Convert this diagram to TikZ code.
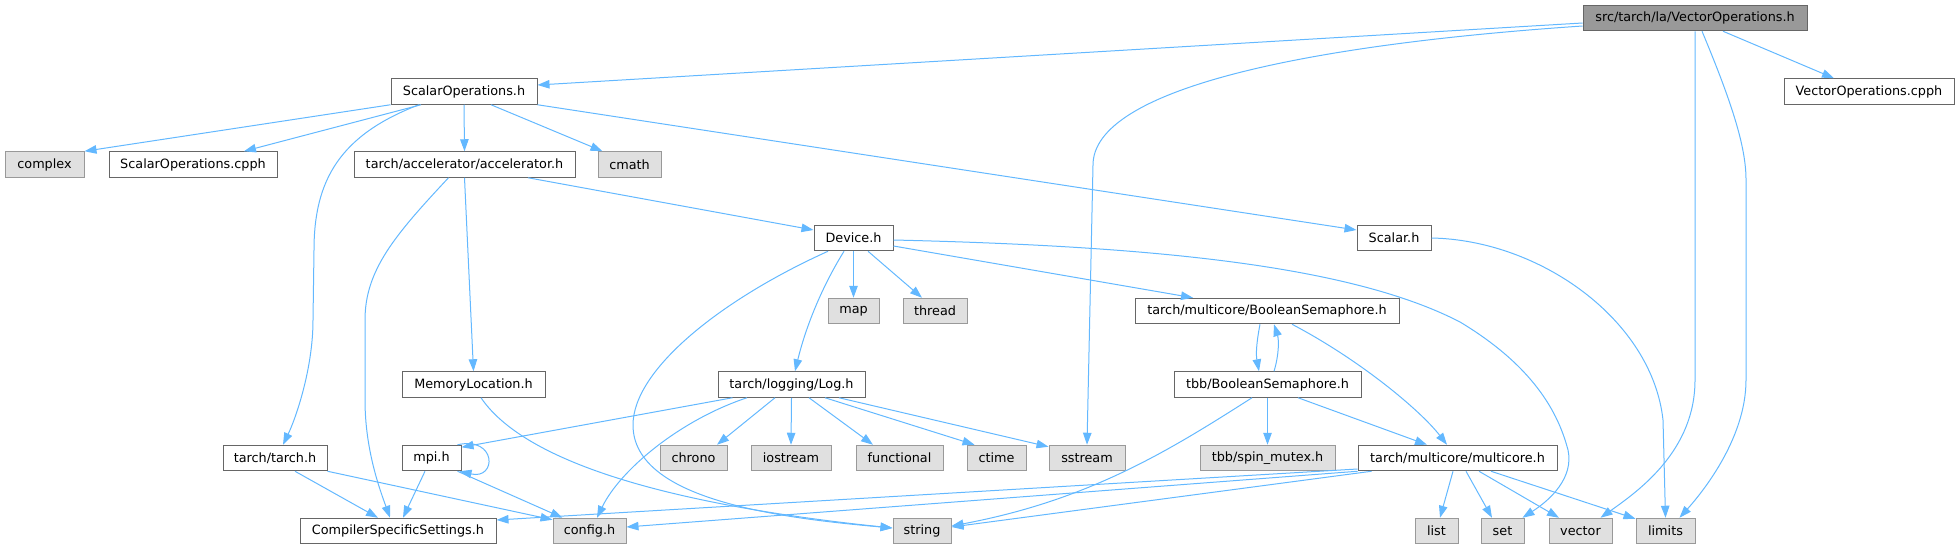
\documentclass[tikz,border=0pt]{standalone}
\usepackage{fontspec}
\setmainfont{DejaVu Sans}
\usetikzlibrary{arrows.meta}
\definecolor{edgec}{HTML}{63B8FF}
\definecolor{rootfill}{HTML}{999999}
\definecolor{darkb}{HTML}{666666}
\definecolor{extfill}{HTML}{E0E0E0}
\definecolor{extb}{HTML}{999999}
\tikzset{
  box/.style={draw=darkb, fill=white, line width=1pt, minimum height=25.5pt, inner sep=0pt, font=\fontsize{12.8}{15}\selectfont},
  rootbox/.style={box, fill=rootfill},
  extbox/.style={box, draw=extb, fill=extfill},
  e/.style={draw=edgec, line width=1pt, -{Triangle[length=12pt,width=8.5pt]}}
}
\begin{document}
\begin{tikzpicture}[x=1pt,y=-1pt]
\useasboundingbox (0,0) rectangle (1959,549);
% nodes
\node[rootbox, minimum width=224pt] (root) at (1695,18) {src/tarch/la/VectorOperations.h};
\node[box, minimum width=146pt] (sops) at (464,91.5) {ScalarOperations.h};
\node[box, minimum width=170pt] (vcpph) at (1869,91.5) {VectorOperations.cpph};
\node[extbox, minimum width=79pt] (complex) at (44.5,164.5) {complex};
\node[box, minimum width=168pt] (scpph) at (193,164.5) {ScalarOperations.cpph};
\node[box, minimum width=221pt] (accel) at (464.5,164.5) {tarch/accelerator/accelerator.h};
\node[extbox, minimum width=63pt] (cmath) at (629.5,164.5) {cmath};
\node[box, minimum width=79pt] (device) at (853.5,238) {Device.h};
\node[box, minimum width=74pt] (scalar) at (1394,238) {Scalar.h};
\node[extbox, minimum width=51pt] (map) at (853.5,311) {map};
\node[extbox, minimum width=64pt] (thread) at (935,311) {thread};
\node[box, minimum width=264pt] (bsem) at (1267,311) {tarch/multicore/BooleanSemaphore.h};
\node[box, minimum width=143pt] (memloc) at (473.5,384.5) {MemoryLocation.h};
\node[box, minimum width=147pt] (log) at (791.5,384.5) {tarch/logging/Log.h};
\node[box, minimum width=187pt] (tbbbs) at (1267.5,384.5) {tbb/BooleanSemaphore.h};
\node[box, minimum width=104pt] (tarchh) at (275,458) {tarch/tarch.h};
\node[box, minimum width=59pt] (mpi) at (431.5,458) {mpi.h};
\node[extbox, minimum width=67pt] (chrono) at (693.5,458) {chrono};
\node[extbox, minimum width=80pt] (iostream) at (791,458) {iostream};
\node[extbox, minimum width=87pt] (functional) at (899.5,458) {functional};
\node[extbox, minimum width=59pt] (ctime) at (996.5,458) {ctime};
\node[extbox, minimum width=76pt] (sstream) at (1087,458) {sstream};
\node[extbox, minimum width=135pt] (spin) at (1267.5,458) {tbb/spin\_mutex.h};
\node[box, minimum width=199pt] (multicore) at (1457.5,458) {tarch/multicore/multicore.h};
\node[box, minimum width=196pt] (css) at (398,531) {CompilerSpecificSettings.h};
\node[extbox, minimum width=73pt] (config) at (589.5,531) {config.h};
\node[extbox, minimum width=58pt] (string) at (922,531) {string};
\node[extbox, minimum width=43pt] (list) at (1436.5,531) {list};
\node[extbox, minimum width=43pt] (set) at (1502.5,531) {set};
\node[extbox, minimum width=63pt] (vector) at (1580.5,531) {vector};
\node[extbox, minimum width=59pt] (limits) at (1665.5,531) {limits};
% edges from root
\draw[e] ([yshift=-5pt]root.west) -- ([yshift=6.5pt]sops.east);
\draw[e] ([yshift=-8pt]root.west) .. controls (1300,45) and (1093,90) .. (1093,165) -- (sstream.north);
\draw[e] (root.south) -- (1695,380) .. controls (1695,450) and (1640,490) .. ([xshift=20pt]vector.north);
\draw[e] ([xshift=7pt]root.south) .. controls (1735,110) and (1746,150) .. (1746,180) -- (1746,380) .. controls (1746,440) and (1700,495) .. ([xshift=14pt]limits.north);
\draw[e] ([xshift=28pt]root.south) -- ([xshift=-35pt]vcpph.north);
% ScalarOperations.h
\draw[e] (sops.south west) -- (complex.north east);
\draw[e] ([xshift=-43pt]sops.south) -- ([xshift=51pt]scpph.north);
\draw[e] ([xshift=-45pt]sops.south) .. controls (340,135) and (314,180) .. (314,250) -- (313,320) .. controls (313,370) and (295,420) .. ([xshift=8pt]tarchh.north);
\draw[e] (sops.south) -- (accel.north);
\draw[e] ([xshift=27pt]sops.south) -- ([xshift=-27pt]cmath.north);
\draw[e] (sops.south east) -- ([yshift=8pt]scalar.west);
% accelerator.h
\draw[e] ([xshift=63.5pt]accel.south) -- ([yshift=8pt]device.west);
\draw[e] (accel.south) -- (memloc.north);
\draw[e] ([xshift=-16pt]accel.south) .. controls (395,235) and (365,270) .. (365,320) -- (365,400) .. controls (365,450) and (380,490) .. ([xshift=-8pt]css.north);
% Device.h
\draw[e] (device.south) -- (map.north);
\draw[e] ([xshift=14.5pt]device.south) -- ([xshift=-13pt]thread.north);
\draw[e] ([xshift=-9.5pt]device.south) .. controls (820,290) and (805,330) .. ([xshift=3.5pt]log.north);
\draw[e] ([xshift=-25.5pt]device.south) .. controls (720,300) and (633,370) .. (633,425) .. controls (633,500) and (780,518) .. ([yshift=3pt]string.west);
\draw[e] ([yshift=-8pt]device.east) -- ([xshift=-74pt]bsem.north);
\draw[e] ([yshift=-2pt]device.east) .. controls (1150,246) and (1350,265) .. (1460,322) .. controls (1540,370) and (1560,420) .. (1568,450) .. controls (1574,478) and (1550,500) .. ([xshift=-2pt]set.north east);
% Scalar.h
\draw[e] (scalar.east) .. controls (1540,240) and (1652,320) .. (1663,420) -- (limits.north);
% Log.h
\draw[e] ([xshift=15pt]log.south west) -- ([yshift=-2.5pt]mpi.north east);
\draw[e] ([xshift=-44.5pt]log.south) .. controls (680,420) and (620,470) .. ([xshift=7.5pt]config.north);
\draw[e] ([xshift=-16.5pt]log.south) -- ([xshift=23.5pt]chrono.north);
\draw[e] (log.south) -- (iostream.north);
\draw[e] ([xshift=17.5pt]log.south) -- ([xshift=-26.5pt]functional.north);
\draw[e] ([xshift=33.5pt]log.south) -- ([xshift=8pt]ctime.north west);
\draw[e] ([xshift=47.5pt]log.south) -- ([yshift=-2pt]sstream.north west);
% mpi.h
\draw[e] ([xshift=-4pt]mpi.north east) .. controls (497,436) and (497,480) .. ([xshift=-2pt]mpi.south east);
\draw[e] ([xshift=-6.5pt]mpi.south) -- ([xshift=5pt]css.north);
\draw[e] ([xshift=-4pt]mpi.south east) -- ([xshift=10pt]config.north west);
% tarch.h
\draw[e] ([xshift=20pt]tarchh.south) -- ([xshift=-20pt]css.north);
\draw[e] (tarchh.south east) -- ([yshift=-2pt]config.north west);
% MemoryLocation.h
\draw[e] ([xshift=7.5pt]memloc.south) .. controls (530,470) and (700,508) .. ([yshift=3pt]string.west);
% BooleanSemaphore.h
\draw[e] ([xshift=-7pt]bsem.south) .. controls (1256,345) and (1256,355) .. ([xshift=-8.5pt]tbbbs.north);
\draw[e] ([xshift=25pt]bsem.south) .. controls (1360,360) and (1420,410) .. ([xshift=-10.5pt]multicore.north);
% tbb/BooleanSemaphore.h
\draw[e] ([xshift=6.5pt]tbbbs.north) .. controls (1279,355) and (1279,340) .. ([xshift=7pt]bsem.south);
\draw[e] (tbbbs.south) -- (spin.north);
\draw[e] ([xshift=30.5pt]tbbbs.south) -- ([xshift=-30.5pt]multicore.north);
\draw[e] ([xshift=-15.5pt]tbbbs.south) .. controls (1170,450) and (1090,500) .. ([yshift=5pt]string.east);
% multicore.h
\draw[e] ([yshift=-11pt]multicore.west) -- ([yshift=11pt]css.east);
\draw[e] (multicore.south west) -- ([yshift=4pt]config.east);
\draw[e] ([xshift=14pt]multicore.south west) -- ([yshift=4pt]string.east);
\draw[e] ([xshift=-4.5pt]multicore.south) -- ([xshift=3.5pt]list.north);
\draw[e] ([xshift=8.5pt]multicore.south) -- ([xshift=-10.5pt]set.north);
\draw[e] ([xshift=21.5pt]multicore.south) -- ([xshift=-21.5pt]vector.north);
\draw[e] ([xshift=33.5pt]multicore.south) -- ([yshift=-1pt]limits.north west);
\end{tikzpicture}
\end{document}
